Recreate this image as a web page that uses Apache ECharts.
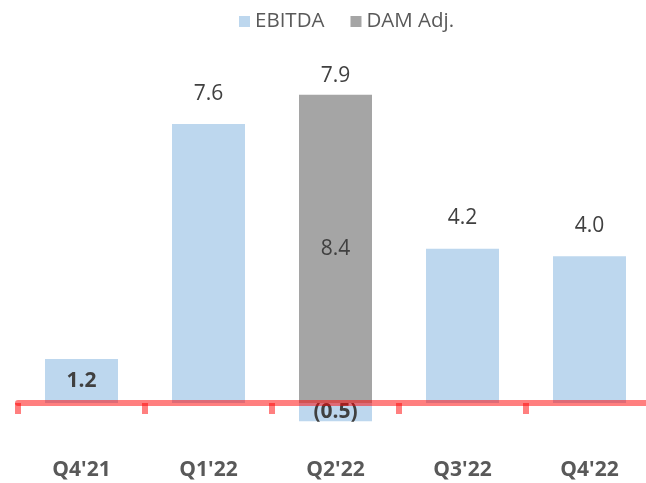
<!DOCTYPE html>
<html>
<head>
<meta charset="utf-8">
<script src="https://cdn.jsdelivr.net/npm/echarts@6/dist/echarts.min.js"></script>
<style>
  html, body { margin: 0; padding: 0; background: #fff; }
  #chart { width: 646px; height: 483px; }
</style>
</head>
<body>
<div id="chart"></div>
<script>
// Quarterly EBITDA with the DAM adjustment shown for Q2'22
const categories = ["Q4'21", "Q1'22", "Q2'22", "Q3'22", "Q4'22"];
const ebitda = [1.2, 7.6, -0.5, 4.2, 4.0];
const damAdj = [null, null, 8.4, null, null];

const FONT = '"Open Sans", "Noto Sans", sans-serif';
const LABEL_SIZE = 21;
const fmt = v => v < 0 ? '(' + Math.abs(v).toFixed(1) + ')' : v.toFixed(1);

// Adjusted total shown above the DAM bar
const totals = categories.map((c, i) =>
  damAdj[i] == null ? null : [c, damAdj[i], +(damAdj[i] + ebitda[i]).toFixed(1)]
).filter(Boolean);

const chart = echarts.init(document.getElementById('chart'), null, { renderer: 'canvas' });

const ebitdaData = ebitda.map((v, i) => {
  const small = Math.abs(v) < 2;
  return {
    value: v,
    label: small
      ? { position: 'inside', fontWeight: 'bold' }
      : { position: 'top', distance: 20 },
    // hide the EBITDA label where the DAM bar covers the category
    ...(damAdj[i] != null && v > 0 ? { label: { show: false } } : {})
  };
});

const redLine = 'rgba(255,0,0,0.5)';

chart.setOption({
  animation: false,
  textStyle: { fontFamily: FONT },
  legend: {
    data: ['EBITDA', 'DAM Adj.'],
    top: 6,
    left: 234,
    itemWidth: 11,
    itemHeight: 11,
    itemGap: 26,
    icon: 'rect',
    textStyle: { fontSize: 20.5, color: '#595959', fontFamily: FONT }
  },
  grid: { left: 18, top: 36, width: 635, height: 403.7, containLabel: false, outerBoundsMode: 'none' },
  xAxis: [
    {
      // zero line with category boundary ticks, drawn over the bars
      type: 'category',
      data: categories,
      z: 10,
      axisLine: { onZero: true, lineStyle: { color: redLine, width: 6 } },
      axisTick: { show: true, alignWithLabel: false, length: 11, lineStyle: { color: redLine, width: 6 } },
      axisLabel: { show: false }
    },
    {
      // quarter names along the bottom
      type: 'category',
      data: categories,
      position: 'bottom',
      axisLine: { show: false, onZero: false },
      axisTick: { show: false },
      axisLabel: { margin: 20, fontSize: 21, fontWeight: 'bold', color: '#595959', fontFamily: FONT }
    }
  ],
  yAxis: {
    type: 'value',
    min: -1,
    max: 10,
    show: false,
    splitLine: { show: false }
  },
  series: [
    {
      name: 'EBITDA',
      type: 'bar',
      data: ebitdaData,
      barWidth: 73,
      barGap: '-100%',
      itemStyle: { color: '#BDD7EE' },
      label: {
        show: true,
        color: '#404040',
        fontSize: LABEL_SIZE,
        fontFamily: FONT,
        formatter: p => fmt(p.value)
      }
    },
    {
      name: 'DAM Adj.',
      type: 'bar',
      data: damAdj,
      barWidth: 73,
      barGap: '-100%',
      itemStyle: { color: '#A5A5A5' },
      label: {
        show: true,
        position: 'inside',
        color: '#404040',
        fontSize: LABEL_SIZE,
        fontFamily: FONT,
        formatter: p => fmt(p.value)
      }
    },
    {
      name: 'Total',
      type: 'scatter',
      data: totals,
      symbolSize: 0,
      silent: true,
      itemStyle: { opacity: 1 },
      label: {
        show: true,
        position: 'top',
        distance: 8,
        color: '#404040',
        fontSize: LABEL_SIZE,
        fontFamily: FONT,
        formatter: p => fmt(p.value[2])
      }
    }
  ]
});
</script>
</body>
</html>
